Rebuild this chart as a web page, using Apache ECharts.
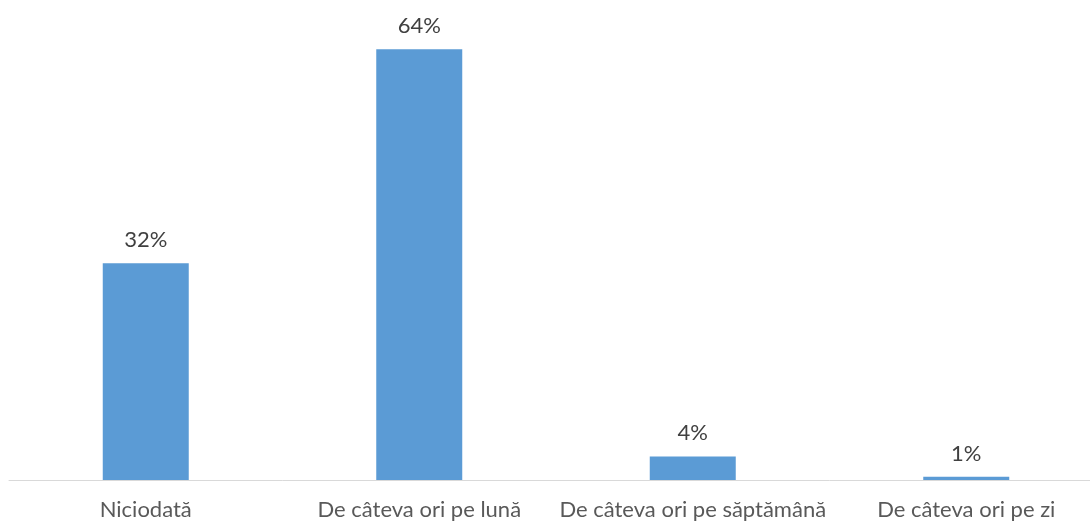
<!DOCTYPE html>
<html>
<head>
<meta charset="utf-8">
<script src="https://cdn.jsdelivr.net/npm/echarts@6/dist/echarts.min.js"></script>
<style>html,body{margin:0;padding:0;background:#fff;overflow:hidden;width:1090px;height:522px;}#c{width:1103px;height:522px;}</style>
</head>
<body>
<div id="c"></div>
<script>
const categories = ['Niciodată', 'De câteva ori pe lună', 'De câteva ori pe săptămână', 'De câteva ori pe zi'];
const values = [32.1, 63.8, 3.5, 0.5];

const chart = echarts.init(document.getElementById('c'), null, {renderer: 'canvas'});
chart.setOption({
  animation: false,
  backgroundColor: '#ffffff',
  grid: {left: 9, top: 7.5, right: 0, bottom: 42, containLabel: false},
  xAxis: {
    type: 'category',
    data: categories,
    boundaryGap: true,
    axisLine: {show: true, lineStyle: {color: '#d9d9d9', width: 1}},
    axisTick: {show: false},
    axisLabel: {interval: 0, color: '#595959', fontFamily: 'Lato', fontSize: 22, margin: 19}
  },
  yAxis: {
    type: 'value', min: 0, max: 70, show: false,
    splitLine: {show: false}
  },
  series: [{
    type: 'bar',
    data: values,
    barWidth: 86,
    itemStyle: {color: '#5b9bd5'},
    label: {
      show: true, position: 'top', distance: 12,
      color: '#404040', fontFamily: 'Lato', fontSize: 22,
      formatter: p => Math.round(p.value) + '%'
    }
  }]
});
</script>
</body>
</html>
